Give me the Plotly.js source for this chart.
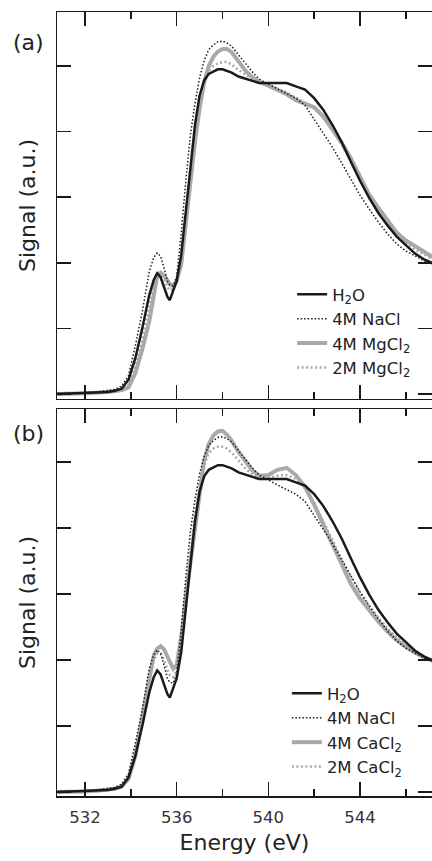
<!DOCTYPE html>
<html>
<head>
<meta charset="utf-8">
<script src="https://cdn.plot.ly/plotly-3.0.1.min.js"></script>
<style>html,body{margin:0;padding:0;background:#fff;}#chart{width:432px;height:861px;}</style>
</head>
<body>
<div id="chart"></div>
<script>
// Photon energy (eV)
const energy = [530.8, 531.5, 532.0, 532.5, 533.0, 533.3, 533.6, 533.9, 534.2, 534.5, 534.8, 535.0, 535.15, 535.3, 535.45, 535.6, 535.7, 535.85, 536.0, 536.2, 536.4, 536.6, 536.8, 537.0, 537.2, 537.4, 537.6, 537.8, 538.0, 538.2, 538.4, 538.7, 539.0, 539.3, 539.6, 540.0, 540.4, 540.8, 541.2, 541.6, 542.0, 542.4, 542.8, 543.2, 543.6, 544.0, 544.4, 544.8, 545.2, 545.6, 546.0, 546.4, 546.8, 547.2];

const h2o = [0.00, 0.01, 0.02, 0.03, 0.03, 0.05, 0.08, 0.22, 0.55, 1.00, 1.50, 1.74, 1.84, 1.78, 1.64, 1.48, 1.43, 1.56, 1.72, 2.12, 2.75, 3.45, 4.10, 4.55, 4.78, 4.88, 4.92, 4.95, 4.95, 4.93, 4.90, 4.84, 4.81, 4.77, 4.74, 4.74, 4.74, 4.74, 4.69, 4.64, 4.51, 4.33, 4.10, 3.84, 3.54, 3.25, 2.99, 2.76, 2.57, 2.40, 2.27, 2.14, 2.05, 1.99];

const nacl4M = [0.01, 0.01, 0.02, 0.03, 0.05, 0.07, 0.12, 0.28, 0.74, 1.25, 1.86, 2.08, 2.15, 2.10, 1.92, 1.72, 1.66, 1.65, 1.79, 2.45, 3.25, 3.95, 4.43, 4.82, 5.08, 5.25, 5.32, 5.37, 5.38, 5.35, 5.30, 5.17, 5.03, 4.91, 4.80, 4.72, 4.65, 4.58, 4.51, 4.40, 4.19, 3.98, 3.76, 3.52, 3.28, 3.03, 2.82, 2.62, 2.44, 2.29, 2.18, 2.10, 2.03, 1.98];

const mgcl2_4M = [0.00, 0.00, 0.01, 0.02, 0.03, 0.04, 0.06, 0.10, 0.32, 0.68, 1.10, 1.50, 1.80, 1.85, 1.81, 1.73, 1.68, 1.64, 1.72, 1.98, 2.60, 3.30, 3.85, 4.35, 4.75, 5.00, 5.14, 5.22, 5.26, 5.26, 5.21, 5.07, 4.93, 4.83, 4.76, 4.70, 4.64, 4.57, 4.48, 4.42, 4.37, 4.23, 4.02, 3.83, 3.59, 3.32, 3.04, 2.84, 2.64, 2.46, 2.34, 2.25, 2.16, 2.08];

const mgcl2_2M = [0.00, 0.01, 0.01, 0.02, 0.03, 0.05, 0.07, 0.14, 0.42, 0.83, 1.30, 1.65, 1.83, 1.84, 1.76, 1.63, 1.58, 1.60, 1.72, 2.05, 2.70, 3.40, 4.00, 4.45, 4.75, 4.92, 5.00, 5.04, 5.06, 5.06, 5.02, 4.94, 4.87, 4.80, 4.75, 4.70, 4.66, 4.60, 4.52, 4.44, 4.36, 4.22, 4.02, 3.80, 3.55, 3.28, 3.02, 2.80, 2.60, 2.42, 2.30, 2.20, 2.12, 2.05];

const cacl2_4M = [0.00, 0.00, 0.01, 0.02, 0.03, 0.05, 0.08, 0.20, 0.55, 1.15, 1.72, 2.07, 2.17, 2.21, 2.16, 2.04, 1.96, 1.87, 1.92, 2.35, 2.95, 3.45, 3.95, 4.55, 5.02, 5.27, 5.40, 5.46, 5.47, 5.41, 5.32, 5.15, 5.00, 4.87, 4.79, 4.80, 4.88, 4.91, 4.80, 4.62, 4.35, 4.05, 3.72, 3.42, 3.15, 2.93, 2.75, 2.58, 2.43, 2.30, 2.20, 2.11, 2.04, 1.98];

const cacl2_2M = [0.00, 0.01, 0.01, 0.02, 0.03, 0.05, 0.09, 0.22, 0.60, 1.18, 1.75, 2.00, 2.10, 2.10, 2.00, 1.85, 1.77, 1.74, 1.85, 2.35, 3.05, 3.65, 4.20, 4.65, 4.95, 5.13, 5.20, 5.23, 5.23, 5.20, 5.14, 5.02, 4.90, 4.81, 4.76, 4.76, 4.79, 4.80, 4.74, 4.60, 4.38, 4.10, 3.80, 3.52, 3.26, 3.02, 2.82, 2.64, 2.48, 2.34, 2.22, 2.12, 2.05, 1.99];

const xMajorTicks = [532, 536, 540, 544];
const xMinorTicks = [534, 538, 542, 546];
const yTicks = [0, 1, 2, 3, 4, 5];

const names = {
  h2o: 'H<sub>2</sub>O',
  nacl: '4M NaCl',
  mg4: '4M MgCl<sub>2</sub>',
  mg2: '2M MgCl<sub>2</sub>',
  ca4: '4M CaCl<sub>2</sub>',
  ca2: '2M CaCl<sub>2</sub>'
};

const FONT = 'DejaVu Sans, Arial, sans-serif';
const GRAY = '#a9a9a9';
const INK = '#1a1a1a';

function tr(y, name, xa, ya, leg, rank, color, width, dash) {
  return {
    x: energy, y: y, name: name, type: 'scatter', mode: 'lines',
    xaxis: xa, yaxis: ya, legend: leg, legendrank: rank,
    line: {color: color, width: width, dash: dash},
    hoverinfo: 'skip'
  };
}

const data = [
  tr(mgcl2_4M, names.mg4, 'x', 'y', 'legend', 3, GRAY, 4, 'solid'),
  tr(mgcl2_2M, names.mg2, 'x', 'y', 'legend', 4, GRAY, 2.5, '2px,2.5px'),
  tr(h2o, names.h2o, 'x', 'y', 'legend', 1, INK, 2.5, 'solid'),
  tr(nacl4M, names.nacl, 'x', 'y', 'legend', 2, INK, 1.5, '1.5px,2px'),
  tr(cacl2_4M, names.ca4, 'x2', 'y2', 'legend2', 3, GRAY, 4, 'solid'),
  tr(cacl2_2M, names.ca2, 'x2', 'y2', 'legend2', 4, GRAY, 2.5, '2px,2.5px'),
  tr(h2o, names.h2o, 'x2', 'y2', 'legend2', 1, INK, 2.5, 'solid'),
  tr(nacl4M, names.nacl, 'x2', 'y2', 'legend2', 2, INK, 1.5, '1.5px,2px')
];

function xAxis(anchor, labels) {
  return {
    anchor: anchor, domain: [0, 1], range: [530.78, 547.14],
    tickmode: 'array', tickvals: xMajorTicks, ticktext: xMajorTicks.map(String),
    ticks: 'inside', ticklen: 14, tickwidth: 1.5, tickcolor: INK,
    showline: true, linecolor: INK, linewidth: 1.5, mirror: 'ticks',
    showgrid: false, zeroline: false, showticklabels: labels,
    tickfont: {family: FONT, size: 16.5, color: '#333'},
    ticklabelstandoff: 6,
    minor: {tickmode: 'array', tickvals: xMinorTicks, ticks: 'inside', ticklen: 7, tickwidth: 1.5, tickcolor: INK, showgrid: false}
  };
}
function yAxis(anchor, domain, range) {
  return {
    anchor: anchor, domain: domain, range: range,
    tickmode: 'array', tickvals: yTicks,
    ticks: 'inside', ticklen: 14, tickwidth: 1.5, tickcolor: INK,
    showline: true, linecolor: INK, linewidth: 1.5, mirror: 'ticks',
    showgrid: false, zeroline: false, showticklabels: false,
    title: {text: 'Signal (a.u.)', font: {family: FONT, size: 22, color: '#222'}, standoff: 14}
  };
}

const xa2 = xAxis('y2', true);
xa2.title = {text: 'Energy (eV)', font: {family: FONT, size: 22, color: '#222'}, standoff: 8};

const legendBase = {
  bgcolor: 'rgba(0,0,0,0)', borderwidth: 0,
  font: {family: FONT, size: 16.5, color: '#222'},
  xanchor: 'left', yanchor: 'top', xref: 'paper', yref: 'paper',
  traceorder: 'normal', itemclick: false
};

const layout = {
  width: 432, height: 861,
  margin: {l: 57, r: 0, t: 12, b: 65, autoexpand: false},
  paper_bgcolor: '#ffffff', plot_bgcolor: '#ffffff',
  font: {family: FONT, color: '#222'},
  showlegend: true,
  xaxis: xAxis('y', false),
  yaxis: yAxis('x', [0.5064, 1], [-0.076, 5.823]),
  xaxis2: xa2,
  yaxis2: yAxis('x2', [0, 0.4936], [-0.06, 5.80]),
  legend: Object.assign({}, legendBase, {x: 0.627, y: 0.662}),
  legend2: Object.assign({}, legendBase, {x: 0.613, y: 0.153}),
  annotations: [
    {text: '(a)', xref: 'paper', yref: 'paper', x: -0.075, y: 0.961, xanchor: 'center', yanchor: 'middle', showarrow: false, font: {family: FONT, size: 22, color: '#222'}},
    {text: '(b)', xref: 'paper', yref: 'paper', x: -0.075, y: 0.462, xanchor: 'center', yanchor: 'middle', showarrow: false, font: {family: FONT, size: 22, color: '#222'}}
  ]
};

Plotly.newPlot('chart', data, layout, {displayModeBar: false, staticPlot: true});
</script>
</body>
</html>
